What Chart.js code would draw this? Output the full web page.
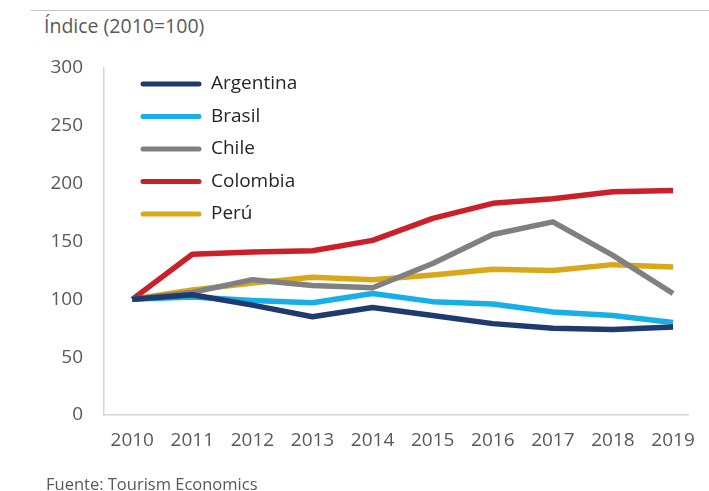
<!DOCTYPE html>
<html>
<head>
<meta charset="utf-8">
<script src="https://cdn.jsdelivr.net/npm/chart.js@4"></script>
<style>
  html, body { margin: 0; padding: 0; background: #fff; }
  body { width: 709px; height: 491px; position: relative; overflow: hidden; font-family: "Open Sans", "Noto Sans", sans-serif; }
  #rule { position: absolute; left: 31px; right: 0; top: 10px; height: 1px; background: #c4c4c4; }
  #title { position: absolute; left: 44px; top: 12px; font-size: 19.5px; color: #595959; }
  #source { position: absolute; left: 46px; top: 472px; font-size: 16.5px; color: #595959; }
  #wrap { position: absolute; left: 0; top: 0; width: 709px; height: 491px; }
</style>
</head>
<body>
<div id="rule"></div>
<div id="title">Índice (2010=100)</div>
<div id="wrap"><canvas id="indexChart"></canvas></div>
<div id="source">Fuente: Tourism Economics</div>
<script>
const years = [2010, 2011, 2012, 2013, 2014, 2015, 2016, 2017, 2018, 2019];
const argentina = [100, 104, 95, 85, 93, 86, 79, 75, 74, 76];
const brasil = [100, 102, 99, 97, 105, 98, 96, 89, 86, 80];
const chile = [100, 106, 117, 112, 110, 131, 156, 167, 138, 105];
const colombia = [100, 139, 141, 142, 151, 170, 183, 187, 193, 194];
const peru = [100, 108, 114, 119, 117, 121, 126, 125, 130, 128];
const yTicks = [0, 50, 100, 150, 200, 250, 300];

const series = [
  { label: 'Argentina', values: argentina, color: '#1f3a6e' },
  { label: 'Brasil', values: brasil, color: '#17b0e6' },
  { label: 'Chile', values: chile, color: '#808080' },
  { label: 'Colombia', values: colombia, color: '#cb2029' },
  { label: 'Perú', values: peru, color: '#d9a81a' },
];

// legend drawn inside the plot, top-left
const insideLegend = {
  id: 'insideLegend',
  afterDraw(chart) {
    const ctx = chart.ctx;
    ctx.save();
    ctx.font = '19px "Open Sans", sans-serif';
    ctx.textBaseline = 'middle';
    chart.data.datasets.forEach((ds, i) => {
      const y = 84 + i * 32.5;
      ctx.strokeStyle = ds.borderColor;
      ctx.lineWidth = 5;
      ctx.lineCap = 'round';
      ctx.beginPath();
      ctx.moveTo(143, y);
      ctx.lineTo(199, y);
      ctx.stroke();
      ctx.fillStyle = '#262626';
      ctx.fillText(ds.label, 211, y);
    });
    ctx.restore();
  }
};

new Chart(document.getElementById('indexChart'), {
  type: 'line',
  data: {
    datasets: series.map(s => ({
      label: s.label,
      data: years.map((yr, i) => ({ x: yr, y: s.values[i] })),
      borderColor: s.color,
      backgroundColor: s.color,
      borderWidth: 5.5,
      pointRadius: 0,
      tension: 0,
      borderJoinStyle: 'round',
    })),
  },
  options: {
    responsive: true,
    maintainAspectRatio: false,
    animation: false,
    layout: { padding: { top: 68, right: 9, left: 0, bottom: 0 } },
    plugins: { legend: { display: false }, tooltip: { enabled: false } },
    scales: {
      x: {
        type: 'linear',
        min: 2009.53,
        max: 2019.25,
        afterBuildTicks: scale => { scale.ticks = years.map(v => ({ value: v })); },
        grid: { display: false, drawTicks: false },
        border: { display: true, color: '#d6d6d6', width: 1.5 },
        ticks: {
          padding: 14,
          color: '#595959',
          font: { family: '"Open Sans", sans-serif', size: 19 },
          callback: v => String(v),
          maxRotation: 0,
        },
        afterFit: scale => { scale.height = 76; },
      },
      y: {
        min: 0,
        max: 300,
        afterBuildTicks: scale => { scale.ticks = yTicks.map(v => ({ value: v })); },
        grid: { display: false, drawTicks: false },
        border: { display: true, color: '#d6d6d6', width: 1.5 },
        ticks: {
          padding: 21,
          color: '#595959',
          font: { family: '"Open Sans", sans-serif', size: 19 },
        },
        afterFit: scale => { scale.width = 104; },
      },
    },
  },
  plugins: [insideLegend],
});
</script>
</body>
</html>
